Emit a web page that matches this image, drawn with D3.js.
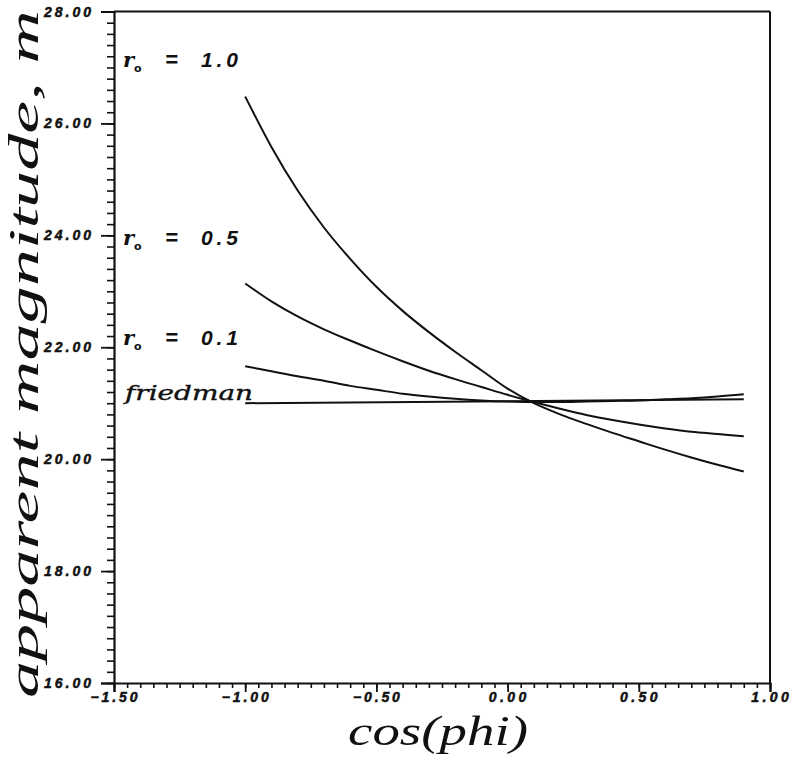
<!DOCTYPE html>
<html>
<head>
<meta charset="utf-8">
<script src="https://cdn.jsdelivr.net/npm/d3@7/dist/d3.min.js"></script>
<style>
  html, body { margin: 0; padding: 0; background: #fff; }
  svg { display: block; }
</style>
</head>
<body>
<svg id="chart" width="796" height="763"></svg>
<script>
// ---- data ----
const cosPhi = [-1.0, -0.9, -0.8, -0.7, -0.6, -0.5, -0.4, -0.3, -0.2, -0.1,
                0.0, 0.1, 0.2, 0.3, 0.4, 0.5, 0.6, 0.7, 0.8, 0.9];
const mR10 = [26.48, 25.58, 24.80, 24.14, 23.58, 23.08, 22.65, 22.27, 21.92, 21.59,
              21.26, 21.00, 20.80, 20.63, 20.47, 20.32, 20.17, 20.03, 19.90, 19.78];
const mR05 = [23.14, 22.82, 22.55, 22.32, 22.12, 21.93, 21.75, 21.58, 21.43, 21.29,
              21.15, 21.02, 20.90, 20.79, 20.70, 20.62, 20.55, 20.49, 20.45, 20.41];
const mR01 = [21.66, 21.57, 21.48, 21.40, 21.31, 21.24, 21.17, 21.12, 21.08, 21.05,
              21.03, 21.02, 21.02, 21.03, 21.04, 21.05, 21.07, 21.09, 21.12, 21.16];
const friedmanX = [-1.0, 0.9];
const friedmanM = [21.00, 21.07];

const xMajorTicks = [-1.5, -1.0, -0.5, 0.0, 0.5, 1.0];
const xTickLabels = ["\u22121.50", "\u22121.00", "\u22120.50", "0.00", "0.50", "1.00"];
const yMajorTicks = [16, 18, 20, 22, 24, 26, 28];
const yTickLabels = ["16.00", "18.00", "20.00", "22.00", "24.00", "26.00", "28.00"];
const curveLabels = ["1.0", "0.5", "0.1"];

// ---- layout ----
const svg = d3.select("#chart");
const x = d3.scaleLinear().domain([-1.5, 1.0]).range([114, 770]);
const y = d3.scaleLinear().domain([16, 28]).range([683, 11.5]);
const ink = "#111";
const tickFont = "'Liberation Sans', Arial, sans-serif";

// frame (top and right)
svg.append("line").attr("x1", x(-1.5)).attr("x2", x(1.0)).attr("y1", y(28)).attr("y2", y(28))
  .attr("stroke", ink).attr("stroke-width", 2);
svg.append("line").attr("x1", x(1.0)).attr("x2", x(1.0)).attr("y1", y(28)).attr("y2", y(16))
  .attr("stroke", ink).attr("stroke-width", 2);

// y axis: minor ticks every 0.2, major every 2
const yMinor = d3.range(0, 61).map(i => 16 + i * 0.2);
svg.append("g").attr("transform", `translate(${x(-1.5)},0)`)
  .call(d3.axisLeft(y).tickValues(yMinor).tickSize(7).tickFormat(""))
  .call(a => a.select(".domain").remove())
  .call(a => a.selectAll("line").attr("stroke", ink).attr("stroke-width", 1.6));
svg.append("g").attr("transform", `translate(${x(-1.5)},0)`)
  .call(d3.axisLeft(y).tickValues(yMajorTicks).tickSize(13).tickFormat(""))
  .call(a => a.select(".domain").attr("stroke", ink).attr("stroke-width", 2.2))
  .call(a => a.selectAll("line").attr("stroke", ink).attr("stroke-width", 1.8));
svg.append("g").selectAll("text").data(yMajorTicks).join("text")
  .attr("x", 91).attr("y", d => y(d) + 5)
  .attr("text-anchor", "end")
  .attr("textLength", (d, i) => yTickLabels[i].length * 9.4)
  .attr("lengthAdjust", "spacing")
  .attr("fill", ink).attr("stroke", ink).attr("stroke-width", 0.5)
  .style("font-family", tickFont).style("font-size", "14px")
  .style("font-weight", "bold").style("font-style", "italic")
  .text((d, i) => yTickLabels[i]);

// x axis: minor ticks every 0.05, major every 0.5
const xMinor = d3.range(0, 51).map(i => -1.5 + i * 0.05);
svg.append("g").attr("transform", `translate(0,${y(16)})`)
  .call(d3.axisBottom(x).tickValues(xMinor).tickSize(5).tickFormat(""))
  .call(a => a.select(".domain").remove())
  .call(a => a.selectAll("line").attr("stroke", ink).attr("stroke-width", 1.6));
svg.append("g").attr("transform", `translate(0,${y(16)})`)
  .call(d3.axisBottom(x).tickValues(xMajorTicks).tickSize(9).tickFormat(""))
  .call(a => a.select(".domain").attr("stroke", ink).attr("stroke-width", 2.2))
  .call(a => a.selectAll("line").attr("stroke", ink).attr("stroke-width", 1.8));
svg.append("g").selectAll("text").data(xMajorTicks).join("text")
  .attr("x", d => x(d)).attr("y", 702)
  .attr("text-anchor", "middle")
  .attr("textLength", (d, i) => xTickLabels[i].length * 9.4)
  .attr("lengthAdjust", "spacing")
  .attr("fill", ink).attr("stroke", ink).attr("stroke-width", 0.5)
  .style("font-family", tickFont).style("font-size", "14px")
  .style("font-weight", "bold").style("font-style", "italic")
  .text((d, i) => xTickLabels[i]);

// curves
const line = d3.line().x(d => x(d[0])).y(d => y(d[1])).curve(d3.curveMonotoneX);
[mR10, mR05, mR01].forEach(vals => {
  svg.append("path")
    .datum(cosPhi.map((c, i) => [c, vals[i]]))
    .attr("d", line)
    .attr("fill", "none").attr("stroke", ink).attr("stroke-width", 2);
});
svg.append("path")
  .datum(friedmanX.map((c, i) => [c, friedmanM[i]]))
  .attr("d", d3.line().x(d => x(d[0])).y(d => y(d[1])))
  .attr("fill", "none").attr("stroke", ink).attr("stroke-width", 2);

// curve labels  r_o = value
const labelBaselines = [67, 245, 345];
curveLabels.forEach((v, i) => {
  const lg = svg.append("g").attr("fill", ink);
  lg.append("text").attr("x", 123).attr("y", labelBaselines[i])
    .style("font-family", "'DejaVu Serif', serif").style("font-style", "italic")
    .style("font-weight", "bold").style("font-size", "21px").text("r");
  lg.append("text").attr("x", 134).attr("y", labelBaselines[i] + 5)
    .style("font-family", "'DejaVu Sans', sans-serif")
    .style("font-weight", "bold").style("font-size", "11px").text("o");
  lg.append("text").attr("x", 165).attr("y", labelBaselines[i])
    .style("font-family", tickFont).style("font-style", "italic")
    .style("font-weight", "bold").style("font-size", "22px").text("=");
  lg.append("text").attr("x", 201).attr("y", labelBaselines[i])
    .attr("textLength", 37).attr("lengthAdjust", "spacing")
    .style("font-family", tickFont).style("font-style", "italic")
    .style("font-weight", "bold").style("font-size", "21px").text(v);
});
svg.append("text").attr("x", 125).attr("y", 400)
  .attr("textLength", 128).attr("lengthAdjust", "spacingAndGlyphs")
  .attr("fill", ink).attr("stroke", ink).attr("stroke-width", 0.4)
  .style("font-family", "'DejaVu Serif', serif").style("font-style", "italic")
  .style("font-size", "21px").text("friedman");

// axis titles
svg.append("text")
  .attr("transform", "translate(38,354) rotate(-90)")
  .attr("text-anchor", "middle")
  .attr("textLength", 688).attr("lengthAdjust", "spacingAndGlyphs")
  .attr("fill", ink)
  .style("font-family", "'Liberation Serif', 'Times New Roman', serif").style("font-style", "italic")
  .style("font-size", "42px").text("apparent magnitude, m");
svg.append("text")
  .attr("x", 438).attr("y", 745)
  .attr("text-anchor", "middle")
  .attr("textLength", 180).attr("lengthAdjust", "spacingAndGlyphs")
  .attr("fill", ink)
  .style("font-family", "'Liberation Serif', 'Times New Roman', serif").style("font-style", "italic")
  .style("font-size", "42px").text("cos(phi)");
</script>
</body>
</html>
